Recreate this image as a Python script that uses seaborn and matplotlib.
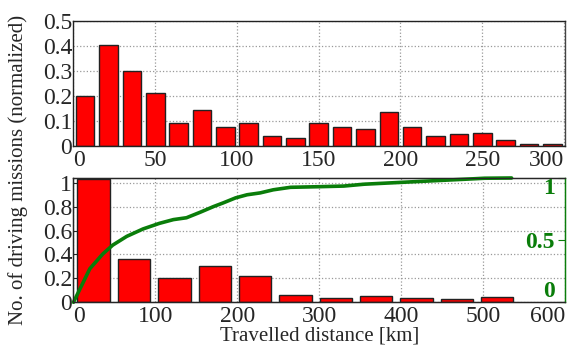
import numpy as np
import pandas as pd
import matplotlib
matplotlib.use("Agg")
import matplotlib.pyplot as plt
import seaborn as sns

# top panel: missions per distance bin (normalized)
top_centers = [7.1, 21.4, 35.7, 50.0, 64.3, 78.6, 92.9, 107.1, 121.4, 135.7, 150.0,
               164.3, 178.6, 192.9, 207.1, 221.4, 235.7, 250.0, 264.3, 278.6, 292.9]
top_values = [0.20, 0.405, 0.30, 0.21, 0.093, 0.142, 0.075, 0.091, 0.040, 0.032, 0.092,
              0.074, 0.068, 0.135, 0.076, 0.040, 0.047, 0.053, 0.024, 0.009, 0.008]

# bottom panel: coarser bins
bot_centers = [24.6, 73.9, 123.2, 172.5, 221.8, 271.1, 320.4, 369.7, 419.0, 468.3, 517.6]
bot_values = [1.03, 0.36, 0.207, 0.305, 0.218, 0.062, 0.036, 0.048, 0.036, 0.025, 0.042]

# cumulative share (right axis)
cdf_x = [0, 20, 36, 48, 65, 85, 105, 122, 138, 155, 171, 183, 198, 212, 228, 244,
         265, 300, 330, 355, 416, 478, 502, 535]
cdf_y = [0, 0.27, 0.39, 0.46, 0.53, 0.59, 0.635, 0.665, 0.68, 0.725, 0.77, 0.80,
         0.84, 0.865, 0.88, 0.905, 0.925, 0.93, 0.935, 0.95, 0.97, 0.99, 0.998, 1.0]

sns.set_style("white")
plt.rcParams["font.family"] = "serif"
plt.rcParams["font.serif"] = ["Liberation Serif", "DejaVu Serif"]
plt.rcParams["font.size"] = 16

fig = plt.figure(figsize=(5.74, 3.49), dpi=100)
ax1 = fig.add_axes([0.128, 0.582, 0.856, 0.358])
ax2 = fig.add_axes([0.128, 0.134, 0.856, 0.356])

bar_kw = dict(native_scale=True, width=0.8, color="red", saturation=1,
              edgecolor="#222222", linewidth=1.0)
grid_kw = dict(color="#999999", linestyle=":", linewidth=0.9)

# top
sns.barplot(x=top_centers, y=top_values, ax=ax1, **bar_kw)
ax1.set_xlim(0, 300.5)
ax1.set_ylim(0, 0.5)
ax1.set_xticks([0, 50, 100, 150, 200, 250, 300])
ax1.set_yticks([0, 0.1, 0.2, 0.3, 0.4, 0.5])
ax1.set_yticklabels(["0", "0.1", "0.2", "0.3", "0.4", "0.5"])
ax1.grid(True, **grid_kw)
ax1.set_axisbelow(True)
ax1.tick_params(direction="in", length=4, labelsize=17)
ax1.tick_params(axis="x", pad=3)
ax1.tick_params(axis="y", pad=1)
ax1.get_xticklabels()[-1].set_ha("right")
ax1.get_xticklabels()[0].set_ha("left")

# bottom
sns.barplot(x=bot_centers, y=bot_values, ax=ax2, **bar_kw)
ax2.set_xlim(0, 600)
ax2.set_ylim(0, 1.04)
ax2.set_xticks([0, 100, 200, 300, 400, 500, 600])
ax2.set_yticks([0, 0.2, 0.4, 0.6, 0.8, 1.0])
ax2.set_yticklabels(["0", "0.2", "0.4", "0.6", "0.8", "1"])
ax2.grid(True, **grid_kw)
ax2.set_axisbelow(True)
ax2.tick_params(direction="in", length=4, labelsize=17)
ax2.tick_params(axis="x", pad=3)
ax2.tick_params(axis="y", pad=1)
ax2.get_xticklabels()[-1].set_ha("right")
ax2.get_xticklabels()[0].set_ha("left")
ax2.set_xlabel("Travelled distance [km]", fontsize=15, labelpad=-1)

green = "#0a7d0a"
ax3 = ax2.twinx()
sns.lineplot(x=cdf_x, y=cdf_y, ax=ax3, color=green, linewidth=2.6, clip_on=False)
ax3.set_ylim(0, 1)
ax3.set_yticks([0, 0.5, 1])
ax3.set_yticklabels(["0", "0.5", "1"], ha="right", fontweight="bold", color=green)
ax3.tick_params(axis="y", direction="in", length=5, pad=-7, labelsize=17, colors=green)
ax3.get_yticklabels()[0].set_va("bottom")
ax3.get_yticklabels()[-1].set_va("top")
ax3.spines["right"].set_color(green)

for ax in (ax1, ax2):
    for s in ax.spines.values():
        s.set_color("#222222")
        s.set_linewidth(1.0)
    ax.spines["right"].set_color(green if ax is ax2 else "#444444")

fig.text(0.032, 0.513, "No. of driving missions (normalized)", rotation=90,
         ha="center", va="center", fontsize=15)

fig.savefig("out.png", dpi=100)
